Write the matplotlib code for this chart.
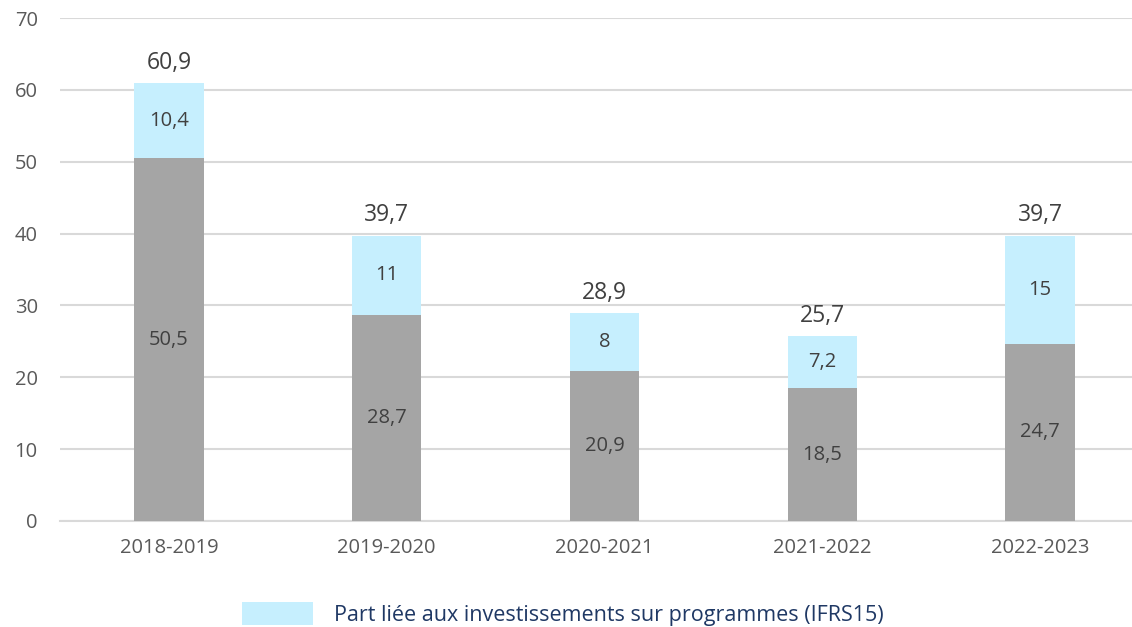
import matplotlib
matplotlib.use("Agg")
import matplotlib.pyplot as plt
from matplotlib.patches import Patch

categories = ["2018-2019", "2019-2020", "2020-2021", "2021-2022", "2022-2023"]
base_values = [50.5, 28.7, 20.9, 18.5, 24.7]
ifrs_values = [10.4, 11, 8, 7.2, 15]
totals = [60.9, 39.7, 28.9, 25.7, 39.7]
legend_label = "Part liée aux investissements sur programmes (IFRS15)"

def fmt(v):
    s = ("%.1f" % v).rstrip("0").rstrip(".")
    return s.replace(".", ",")

plt.rcParams['font.family'] = ['Open Sans', 'DejaVu Sans']

W, H = 1132, 627
fig = plt.figure(figsize=(W / 100, H / 100), dpi=100)
ax = fig.add_axes([60 / W, (H - 521) / H, (W - 60) / W, (521 - 18) / H])

gray = "#a5a5a5"
cyan = "#c6effe"
x = list(range(len(categories)))
width = 0.317
ax.bar(x, base_values, width=width, color=gray, zorder=3)
ax.bar(x, ifrs_values, width=width, bottom=base_values, color=cyan, zorder=3)

for i in x:
    ax.text(i, base_values[i] / 2, fmt(base_values[i]), ha="center", va="center",
            fontsize=14.5, color="#404040", zorder=4)
    ax.text(i, base_values[i] + ifrs_values[i] / 2, fmt(ifrs_values[i]), ha="center",
            va="center", fontsize=14.5, color="#404040", zorder=4)
    ax.text(i, totals[i] + 1.2, fmt(totals[i]), ha="center", va="bottom",
            fontsize=16.5, color="#404040", zorder=4)

step = 217.75
ax.set_xlim(-(169 - 60) / step, (W - 169) / step)
ax.set_ylim(0, 70)
ax.set_yticks(range(0, 71, 10))
ax.set_xticks(x)
ax.set_xticklabels(categories)
ax.yaxis.grid(True, color="#d9d9d9", linewidth=1.5, zorder=0)
for s in ["top", "right", "left"]:
    ax.spines[s].set_visible(False)
ax.spines["bottom"].set_color("#d9d9d9")
ax.spines["bottom"].set_linewidth(1.5)
ax.tick_params(axis="both", length=0, labelsize=14.5, labelcolor="#595959")
ax.tick_params(axis="x", pad=12)
ax.tick_params(axis="y", pad=16)

handles = [Patch(facecolor=cyan, edgecolor="none")]
leg = fig.legend(handles, [legend_label], loc="center", bbox_to_anchor=(563 / W, (H - 614) / H),
                 frameon=False, fontsize=15.5, handlelength=3.3, handleheight=1.3,
                 handletextpad=1.0)
for t in leg.get_texts():
    t.set_color("#1f3864")

fig.savefig("out.png", dpi=100)
